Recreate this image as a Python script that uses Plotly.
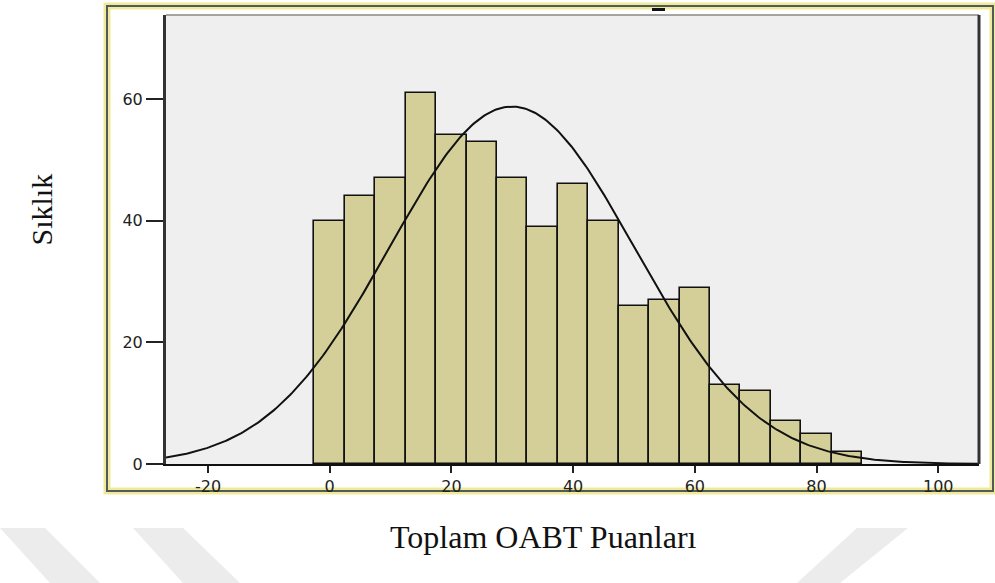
import numpy as np
import plotly.graph_objects as go

# ---- data ----
bin_centers = [0, 5, 10, 15, 20, 25, 30, 35, 40, 45, 50, 55, 60, 65, 70, 75, 80, 85]
counts = [40, 44, 47, 61, 54, 53, 47, 39, 46, 40, 26, 27, 29, 13, 12, 7, 5, 2]
bin_width = 5
curve_mean = 29.95
curve_sd = 20.1
x_ticks = [-20, 0, 20, 40, 60, 80, 100]
x_tick_text = ["-20", "0", "20", "40", "60", "80", "100"]
y_ticks = [0, 20, 40, 60]
y_tick_text = ["0", "20", "40", "60"]
x_title = "Toplam OABT Puanları"
y_title = "Sıklık"

n_total = sum(counts)
xs = np.linspace(-26.9, 106.7, 400)
ys = n_total * bin_width / (curve_sd * np.sqrt(2 * np.pi)) * np.exp(-0.5 * ((xs - curve_mean) / curve_sd) ** 2)

W, H = 995, 583
L, R, T, B = 166, 16, 15, 119
PW, PH = W - L - R, H - T - B


def px(x):
    return (x - L) / PW


def py(y):
    return (H - B - y) / PH


fig = go.Figure()
fig.add_trace(go.Bar(
    x=bin_centers, y=counts, width=bin_width,
    marker=dict(color="#d4cf98", line=dict(color="#111111", width=1.6)),
    hoverinfo="x+y", showlegend=False,
))
fig.add_trace(go.Scatter(
    x=xs, y=ys, mode="lines", line=dict(color="#111111", width=2),
    showlegend=False, hoverinfo="skip",
))

shapes = []
wm = "#ececec"
for pts in [
    [(0, 528), (45, 528), (100, 583), (50, 583)],
    [(133, 528), (183, 528), (240, 583), (183, 583)],
    [(857, 528), (908, 528), (840, 583), (797, 583)],
]:
    path = "M " + " L ".join(f"{px(a):.5f},{py(b):.5f}" for a, b in pts) + " Z"
    shapes.append(dict(type="path", path=path, xref="paper", yref="paper",
                       fillcolor=wm, line=dict(width=0), layer="below"))
shapes.append(dict(type="rect", xref="paper", yref="paper",
                   x0=px(107), x1=px(993), y0=py(491), y1=py(6),
                   line=dict(color="rgba(236,226,120,0.75)", width=7), layer="below"))
shapes.append(dict(type="rect", xref="paper", yref="paper",
                   x0=px(107), x1=px(993), y0=py(491), y1=py(6),
                   line=dict(color="#4f5c5c", width=2), layer="below"))
shapes.append(dict(type="rect", xref="paper", yref="paper",
                   x0=px(652), x1=px(665), y0=py(11), y1=py(8),
                   fillcolor="#111111", line=dict(width=0)))
shapes.append(dict(type="line", xref="paper", yref="paper", x0=0, x1=1, y0=1, y1=1,
                   line=dict(color="#888888", width=1.5)))
shapes.append(dict(type="line", xref="paper", yref="paper", x0=1, x1=1, y0=0, y1=1,
                   line=dict(color="#333333", width=3)))

tick_font = dict(family="DejaVu Sans", size=16, color="#222222")

annotations = [
    dict(text=y_title, xref="paper", yref="paper", x=px(23), y=py(210),
         showarrow=False, textangle=-90,
         font=dict(family="Liberation Serif", size=30, color="#111111")),
    dict(text=x_title, xref="paper", yref="paper", x=px(543), y=py(557),
         showarrow=False,
         font=dict(family="Liberation Serif", size=32, color="#111111")),
]

fig.update_layout(
    width=W, height=H,
    margin=dict(l=L, r=R, t=T, b=B, pad=0),
    paper_bgcolor="white", plot_bgcolor="#efefef",
    bargap=0,
    shapes=shapes, annotations=annotations,
    xaxis=dict(range=[-26.9, 106.7], tickmode="array", tickvals=x_ticks, ticktext=x_tick_text,
               ticks="outside", ticklen=7,
               tickwidth=2, tickcolor="#222222", showline=True, linecolor="#111111",
               linewidth=2, showgrid=False, zeroline=False, tickfont=tick_font),
    yaxis=dict(range=[0, 73.8], tickmode="array", tickvals=y_ticks, ticktext=y_tick_text,
               ticks="outside", ticklen=17,
               tickwidth=2, tickcolor="#222222", showline=True, linecolor="#333333",
               linewidth=3, showgrid=False, zeroline=False, tickfont=tick_font),
)

fig.write_html("out.html")
